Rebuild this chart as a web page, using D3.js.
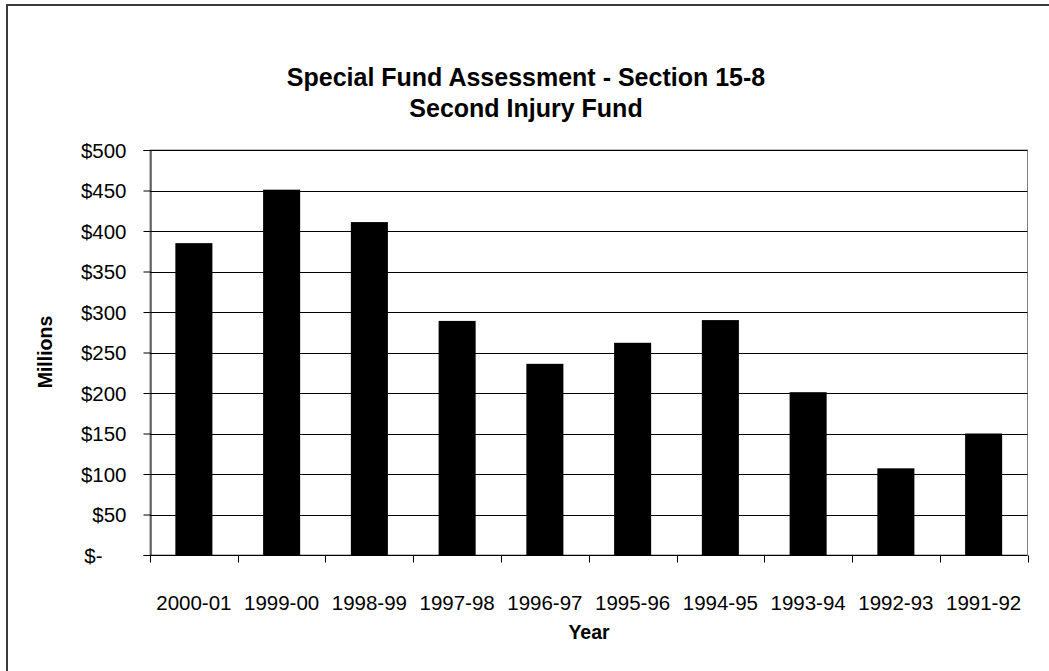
<!DOCTYPE html>
<html>
<head>
<meta charset="utf-8">
<script src="https://cdn.jsdelivr.net/npm/d3@7"></script>
<style>
  html, body { margin: 0; padding: 0; background: #fff; }
  svg { display: block; }
  text { font-family: "Liberation Sans", Arial, sans-serif; fill: #000; }
</style>
</head>
<body>
<svg id="chart" width="1049" height="671"></svg>
<script>
const categories = ["2000-01", "1999-00", "1998-99", "1997-98", "1996-97", "1995-96", "1994-95", "1993-94", "1992-93", "1991-92"];
const values = [385, 451, 411, 289, 236, 262, 290, 201, 107, 150];
const yTicks = [0, 50, 100, 150, 200, 250, 300, 350, 400, 450, 500];
const titleLines = ["Special Fund Assessment - Section 15-8", "Second Injury Fund"];
const yTitle = "Millions";
const xTitle = "Year";

const svg = d3.select("#chart");
const pLeft = 150, pRight = 1027.5, pTop = 150, pBottom = 555;

// outer chart frame (right/bottom edges fall outside the picture)
svg.append("rect")
  .attr("x", 7).attr("y", 5)
  .attr("width", 1100).attr("height", 700)
  .attr("fill", "#fff").attr("stroke", "#3a3a3a").attr("stroke-width", 2);

const x = d3.scaleBand().domain(categories).range([pLeft, pRight])
  .paddingInner(0.578).paddingOuter(0.289);
const y = d3.scaleLinear().domain([0, 500]).range([pBottom, pTop]);

// plot area border
svg.append("rect")
  .attr("x", pLeft).attr("y", pTop)
  .attr("width", pRight - pLeft).attr("height", pBottom - pTop)
  .attr("fill", "none").attr("stroke", "#808080").attr("stroke-width", 1);

// gridlines
svg.append("g").selectAll("line").data(yTicks.filter(d => d > 0)).join("line")
  .attr("x1", pLeft).attr("x2", pRight)
  .attr("y1", d => Math.round(y(d)) + 0.5).attr("y2", d => Math.round(y(d)) + 0.5)
  .attr("stroke", "#000").attr("stroke-width", 1);

// bars
svg.append("g").selectAll("rect").data(categories).join("rect")
  .attr("x", d => x(d))
  .attr("y", (d, i) => y(values[i]))
  .attr("width", x.bandwidth())
  .attr("height", (d, i) => y(0) - y(values[i]))
  .attr("fill", "#000");

// y axis
const yAxis = svg.append("g")
  .attr("transform", `translate(${pLeft + 0.5},0)`)
  .call(d3.axisLeft(y).tickValues(yTicks).tickSize(7).tickPadding(17)
    .tickFormat(d => d === 0 ? "$-" : "$" + d));
yAxis.select(".domain").attr("stroke", "#000");
yAxis.selectAll(".tick line").attr("stroke", "#000");
yAxis.selectAll(".tick text")
  .style("font-size", "20.5px")
  .attr("dy", "0.35em")
  .attr("x", d => d === 0 ? -48 : -24);

// x axis
const xAxisG = svg.append("g").attr("transform", `translate(0,${Math.round(pBottom) + 0.5})`);
xAxisG.append("line").attr("x1", pLeft).attr("x2", pRight).attr("stroke", "#000");
const bounds = categories.map(c => x(c) + x.bandwidth() / 2 - x.step() / 2).concat([pRight]);
xAxisG.selectAll("line.tk").data(bounds).join("line").attr("class", "tk")
  .attr("x1", d => Math.round(d) + 0.5).attr("x2", d => Math.round(d) + 0.5)
  .attr("y1", 0).attr("y2", 7).attr("stroke", "#000");
xAxisG.selectAll("text").data(categories).join("text")
  .attr("x", d => x(d) + x.bandwidth() / 2)
  .attr("y", 54)
  .attr("text-anchor", "middle")
  .style("font-size", "20.5px")
  .text(d => d);

// titles
svg.append("g").selectAll("text").data(titleLines).join("text")
  .attr("x", 526).attr("y", (d, i) => 86 + i * 31)
  .attr("text-anchor", "middle")
  .style("font-size", "25px").style("font-weight", "bold")
  .text(d => d);

svg.append("text")
  .attr("transform", "translate(52,352) rotate(-90)")
  .attr("text-anchor", "middle")
  .style("font-size", "19.5px").style("font-weight", "bold")
  .text(yTitle);

svg.append("text")
  .attr("x", 589).attr("y", 639)
  .attr("text-anchor", "middle")
  .style("font-size", "19.5px").style("font-weight", "bold")
  .text(xTitle);
</script>
</body>
</html>
